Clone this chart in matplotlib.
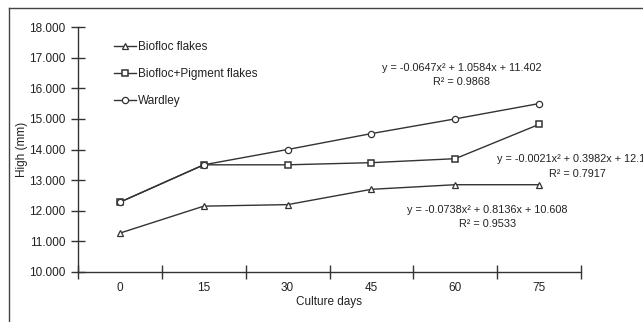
import matplotlib
matplotlib.use("Agg")
import matplotlib.pyplot as plt
from matplotlib.lines import Line2D

plt.rcParams['font.family'] = ['Liberation Sans', 'DejaVu Sans']

days = ['0', '15', '30', '45', '60', '75']
biofloc = [11.27, 12.15, 12.20, 12.70, 12.85, 12.85]
pigment = [12.28, 13.50, 13.50, 13.57, 13.70, 14.82]
wardley = [12.28, 13.50, 14.00, 14.52, 15.00, 15.50]
yticks = [10, 11, 12, 13, 14, 15, 16, 17, 18]

eq_wardley = "y = -0.0647x² + 1.0584x + 11.402\nR² = 0.9868"
eq_pigment = "y = -0.0021x² + 0.3982x + 12.195\nR² = 0.7917"
eq_biofloc = "y = -0.0738x² + 0.8136x + 10.608\nR² = 0.9533"

fig = plt.figure(figsize=(6.43, 3.22), dpi=100)
ax = fig.add_axes([78/643, 1-272/322, 503/643, 245/322])

c = '#333333'
tc = '#222222'
x = range(len(days))
ax.plot(x, biofloc, color=c, lw=1, marker='^', ms=4, mfc='white', mec=c, mew=0.9, label='Biofloc flakes')
ax.plot(x, pigment, color=c, lw=1, marker='s', ms=4.5, mfc='white', mec=c, mew=1.1, label='Biofloc+Pigment flakes')
ax.plot(x, wardley, color=c, lw=1, marker='o', ms=4.5, mfc='white', mec=c, mew=0.9, label='Wardley')

ax.set_xlim(-0.5, 5.5)
ax.set_ylim(10, 18)
# category boundaries get the tick marks, labels sit at the centres
ax.set_xticks([i + 0.5 for i in range(-1, len(days))])
ax.set_xticklabels([])
ax.set_xticks(list(x), minor=True)
ax.set_xticklabels(days, minor=True)
ax.tick_params(axis='x', which='major', direction='inout', length=10, width=1, color=c)
ax.tick_params(axis='x', which='minor', length=0, pad=7, labelsize=8.5, labelcolor=tc)
ax.set_yticks(yticks)
ax.set_yticklabels(['%.3f' % v for v in yticks])
ax.tick_params(axis='y', direction='inout', length=10, width=1, color=c, pad=4, labelsize=8.5, labelcolor=tc)

for s in ['top', 'right']:
    ax.spines[s].set_visible(False)
for s in ['left', 'bottom']:
    ax.spines[s].set_color(c)
    ax.spines[s].set_linewidth(1)

ax.set_xlabel('Culture days', fontsize=8.5, color=tc, labelpad=2)
ax.set_ylabel('High (mm)', fontsize=8.5, color=tc, labelpad=1)

ax.legend(loc='upper left', bbox_to_anchor=(0.05, 0.985), frameon=False, fontsize=8.5,
          handlelength=1.9, handletextpad=0.15, labelspacing=1.25, labelcolor=tc)

eq_style = dict(fontsize=7.8, color=tc, linespacing=1.55, multialignment='center')
ax.text(4.08, 16.43, eq_wardley, ha='center', va='center', **eq_style)
ax.text(4.5, 13.44, eq_pigment, ha='left', va='center', clip_on=False, **eq_style)
ax.text(4.38, 11.79, eq_biofloc, ha='center', va='center', **eq_style)

# outer frame (left and top edges)
fig.add_artist(Line2D([9/643, 9/643], [0, 1-8/322], color='#444444', lw=1))
fig.add_artist(Line2D([9/643, 1], [1-8/322, 1-8/322], color='#444444', lw=1))

fig.savefig('out.png', dpi=100)
